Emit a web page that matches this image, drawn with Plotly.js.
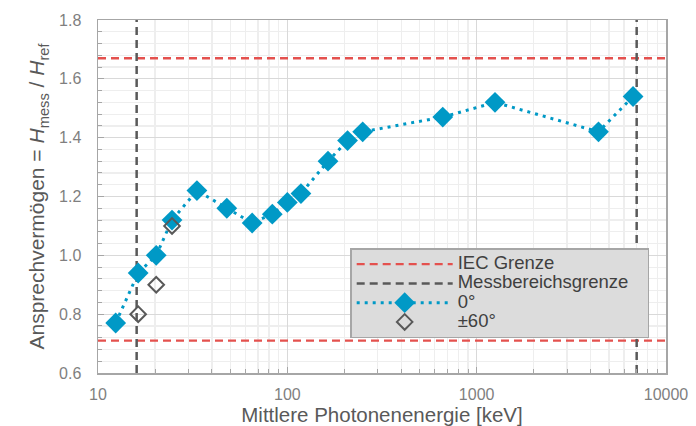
<!DOCTYPE html>
<html>
<head>
<meta charset="utf-8">
<script src="https://cdn.plot.ly/plotly-3.0.1.min.js"></script>
<style>html,body{margin:0;padding:0;background:#fff;}#chart{width:696px;height:426px;}</style>
</head>
<body>
<div id="chart"></div>
<script>
// Data
const energy0 = [12.4, 16.3, 20.3, 24.6, 33.3, 47.9, 65.2, 83.3, 100, 118, 164, 208, 250, 662, 1250, 4400, 6700];
const resp0   = [0.77, 0.94, 1.00, 1.12, 1.22, 1.16, 1.11, 1.14, 1.18, 1.21, 1.32, 1.39, 1.42, 1.47, 1.52, 1.42, 1.54];
const energy60 = [16.3, 20.3, 24.6];
const resp60   = [0.80, 0.90, 1.10];
const iecUpper = 1.67;
const iecLower = 0.71;
const rangeLow = 16;
const rangeHigh = 7000;
const xRange = [10, 10000];
const yRange = [0.6, 1.8];
const xTickVals = [10, 100, 1000, 10000];
const xTickText = ['10', '100', '1000', '10000'];
const legendNames = ['IEC Grenze', 'Messbereichsgrenze', '0°', '±60°'];

const minorX = [];
for (let d = 10; d < 10000; d *= 10) for (let k = 2; k <= 9; k++) minorX.push(d * k);

const red = '#e4514e', dark = '#595959', blue = '#0099c6';
const lg = s => '<span style="font-size:18.5px">' + s + '</span>';
const dashPat = '8px,5px';

const traces = [
  {x: xRange, y: [iecUpper, iecUpper], mode: 'lines', name: lg(legendNames[0]), legendgroup: 'iec', legendrank: 1,
   line: {color: red, width: 2.3, dash: dashPat}, hoverinfo: 'skip'},
  {x: xRange, y: [iecLower, iecLower], mode: 'lines', name: lg(legendNames[0]), legendgroup: 'iec', showlegend: false,
   line: {color: red, width: 2.3, dash: dashPat}, hoverinfo: 'skip'},
  {x: [rangeLow, rangeLow], y: yRange, mode: 'lines', name: lg(legendNames[1]) + '\u00a0\u00a0\u00a0\u00a0', legendgroup: 'mb', legendrank: 2,
   line: {color: dark, width: 2.5, dash: dashPat}, hoverinfo: 'skip'},
  {x: [rangeHigh, rangeHigh], y: yRange, mode: 'lines', name: lg(legendNames[1]), legendgroup: 'mb', showlegend: false,
   line: {color: dark, width: 2.5, dash: dashPat}, hoverinfo: 'skip'},
  {x: energy0, y: resp0, mode: 'lines+markers', name: lg(legendNames[2]), legendrank: 3,
   line: {color: blue, width: 3, dash: '3px,5px'},
   marker: {symbol: 'diamond', size: 16, color: blue}},
  {x: energy60, y: resp60, mode: 'markers', name: lg(legendNames[3]), legendrank: 4,
   marker: {symbol: 'diamond-open', size: 12, color: dark, line: {width: 2, color: dark}}}
];

const layout = {
  width: 696, height: 426,
  margin: {l: 98, r: 30, t: 20, b: 53},
  paper_bgcolor: '#ffffff', plot_bgcolor: '#ffffff',
  font: {family: 'Liberation Sans, Arial, sans-serif', color: '#7f7f7f', size: 16},
  showlegend: true,
  legend: {x: 0.444, y: 0.354, xanchor: 'left', yanchor: 'top',
           bgcolor: '#dcdcdc', bordercolor: '#a6a6a6', borderwidth: 1.5,
           font: {size: 12.5, color: '#404040'}, itemwidth: 96, tracegroupgap: 0},
  xaxis: {type: 'log', range: [Math.log10(xRange[0]), Math.log10(xRange[1])],
          tickvals: xTickVals, ticktext: xTickText, ticks: 'inside', ticklen: 6, tickcolor: '#a6a6a6',
          showline: true, linecolor: '#a6a6a6', linewidth: 1.5, mirror: true,
          showgrid: true, gridcolor: '#d9d9d9', gridwidth: 1.2, zeroline: false, ticklabelstandoff: 6,
          minor: {tickvals: minorX, ticks: 'inside', ticklen: 4, tickcolor: '#a6a6a6', showgrid: true, gridcolor: '#eeeeee', gridwidth: 1.2},
          title: {text: 'Mittlere Photonenenergie [keV]', font: {size: 20.5, color: '#595959'}, standoff: 4},
          tickfont: {size: 16, color: '#7f7f7f'}},
  yaxis: {range: yRange, dtick: 0.2, tickformat: '.1f', ticks: 'inside', ticklen: 6, tickcolor: '#a6a6a6',
          showline: true, linecolor: '#a6a6a6', linewidth: 1.5, mirror: true,
          showgrid: true, gridcolor: '#d9d9d9', gridwidth: 1.2, zeroline: false, ticklabelstandoff: 12,
          minor: {dtick: 0.04, ticks: 'inside', ticklen: 4, tickcolor: '#a6a6a6', showgrid: true, gridcolor: '#eeeeee', gridwidth: 1.2},
          title: {text: 'Ansprechvermögen = <i>H</i><sub>mess</sub> / <i>H</i><sub>ref</sub>', font: {size: 21, color: '#595959'}, standoff: 8},
          tickfont: {size: 16, color: '#7f7f7f'}}
};

Plotly.newPlot('chart', traces, layout, {displayModeBar: false, staticPlot: true});
</script>
</body>
</html>
